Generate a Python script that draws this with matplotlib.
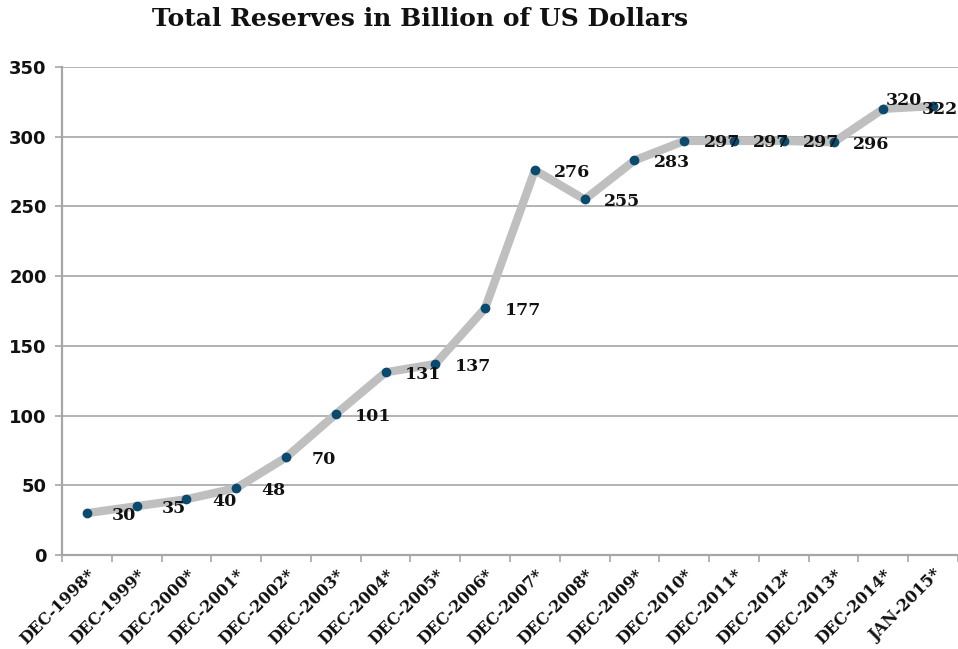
import matplotlib
matplotlib.use("Agg")
import matplotlib.pyplot as plt
import numpy as np

# total reserves, billion USD
periods = ["DEC-1998*", "DEC-1999*", "DEC-2000*", "DEC-2001*", "DEC-2002*",
           "DEC-2003*", "DEC-2004*", "DEC-2005*", "DEC-2006*", "DEC-2007*",
           "DEC-2008*", "DEC-2009*", "DEC-2010*", "DEC-2011*", "DEC-2012*",
           "DEC-2013*", "DEC-2014*", "JAN-2015*"]
reserves = [30, 35, 40, 48, 70, 101, 131, 137, 177, 276,
            255, 283, 297, 297, 297, 296, 320, 322]
y_ticks = [0, 50, 100, 150, 200, 250, 300, 350]

serif = "DejaVu Serif"
grid_col = "#a6a6a6"

fig = plt.figure(figsize=(9.58, 6.49), dpi=100)
ax = fig.add_axes([62 / 958, 94 / 649, 896 / 958, 488 / 649])

x = np.arange(len(periods))
ax.plot(x, reserves, color="#bfbfbf", lw=6, solid_capstyle="butt", zorder=2)
ax.plot(x, reserves, ls="none", marker="o", ms=6, color="#0b4a6f", zorder=3)

# labels sit to the right of each point; the last two are squeezed near the edge
label_offsets = [(27, -1.5)] * (len(reserves) - 2) + [(14.5, 6), (5, -2.5)]
for xi, v, off in zip(x, reserves, label_offsets):
    ax.annotate(str(v), (xi, v), xytext=off, textcoords="offset points",
                ha="center", va="center", fontsize=12.5, fontweight="bold",
                family=serif, color="#111111", zorder=4)

ax.set_xlim(-0.5, len(periods) - 0.5)
ax.set_ylim(0, 350)
ax.set_yticks(y_ticks)
ax.set_yticklabels([str(t) for t in y_ticks], fontsize=13, fontweight="bold",
                   family="DejaVu Sans", color="#111111")
ax.set_xticks(x)
ax.set_xticklabels(periods, rotation=45, ha="right", rotation_mode="anchor",
                   fontsize=11.5, fontweight="bold", family=serif, color="#111111")
ax.set_xticks(np.arange(len(periods) + 1) - 0.5, minor=True)
ax.tick_params(axis="x", which="major", length=0, pad=8)
ax.tick_params(axis="x", which="minor", length=5, color=grid_col, width=1.2)
ax.tick_params(axis="y", length=5, color=grid_col, width=1.2, pad=6)

ax.grid(axis="y", color=grid_col, lw=1.2, zorder=1)
for side in ("top", "right"):
    ax.spines[side].set_visible(False)
for side in ("left", "bottom"):
    ax.spines[side].set_color(grid_col)
    ax.spines[side].set_linewidth(1.6)

fig.text(420 / 958, 1 - 19 / 649, "Total Reserves in Billion of US Dollars",
         ha="center", va="center", fontsize=18, fontweight="bold",
         family=serif, color="#111111")

fig.savefig("out.png", dpi=100)
